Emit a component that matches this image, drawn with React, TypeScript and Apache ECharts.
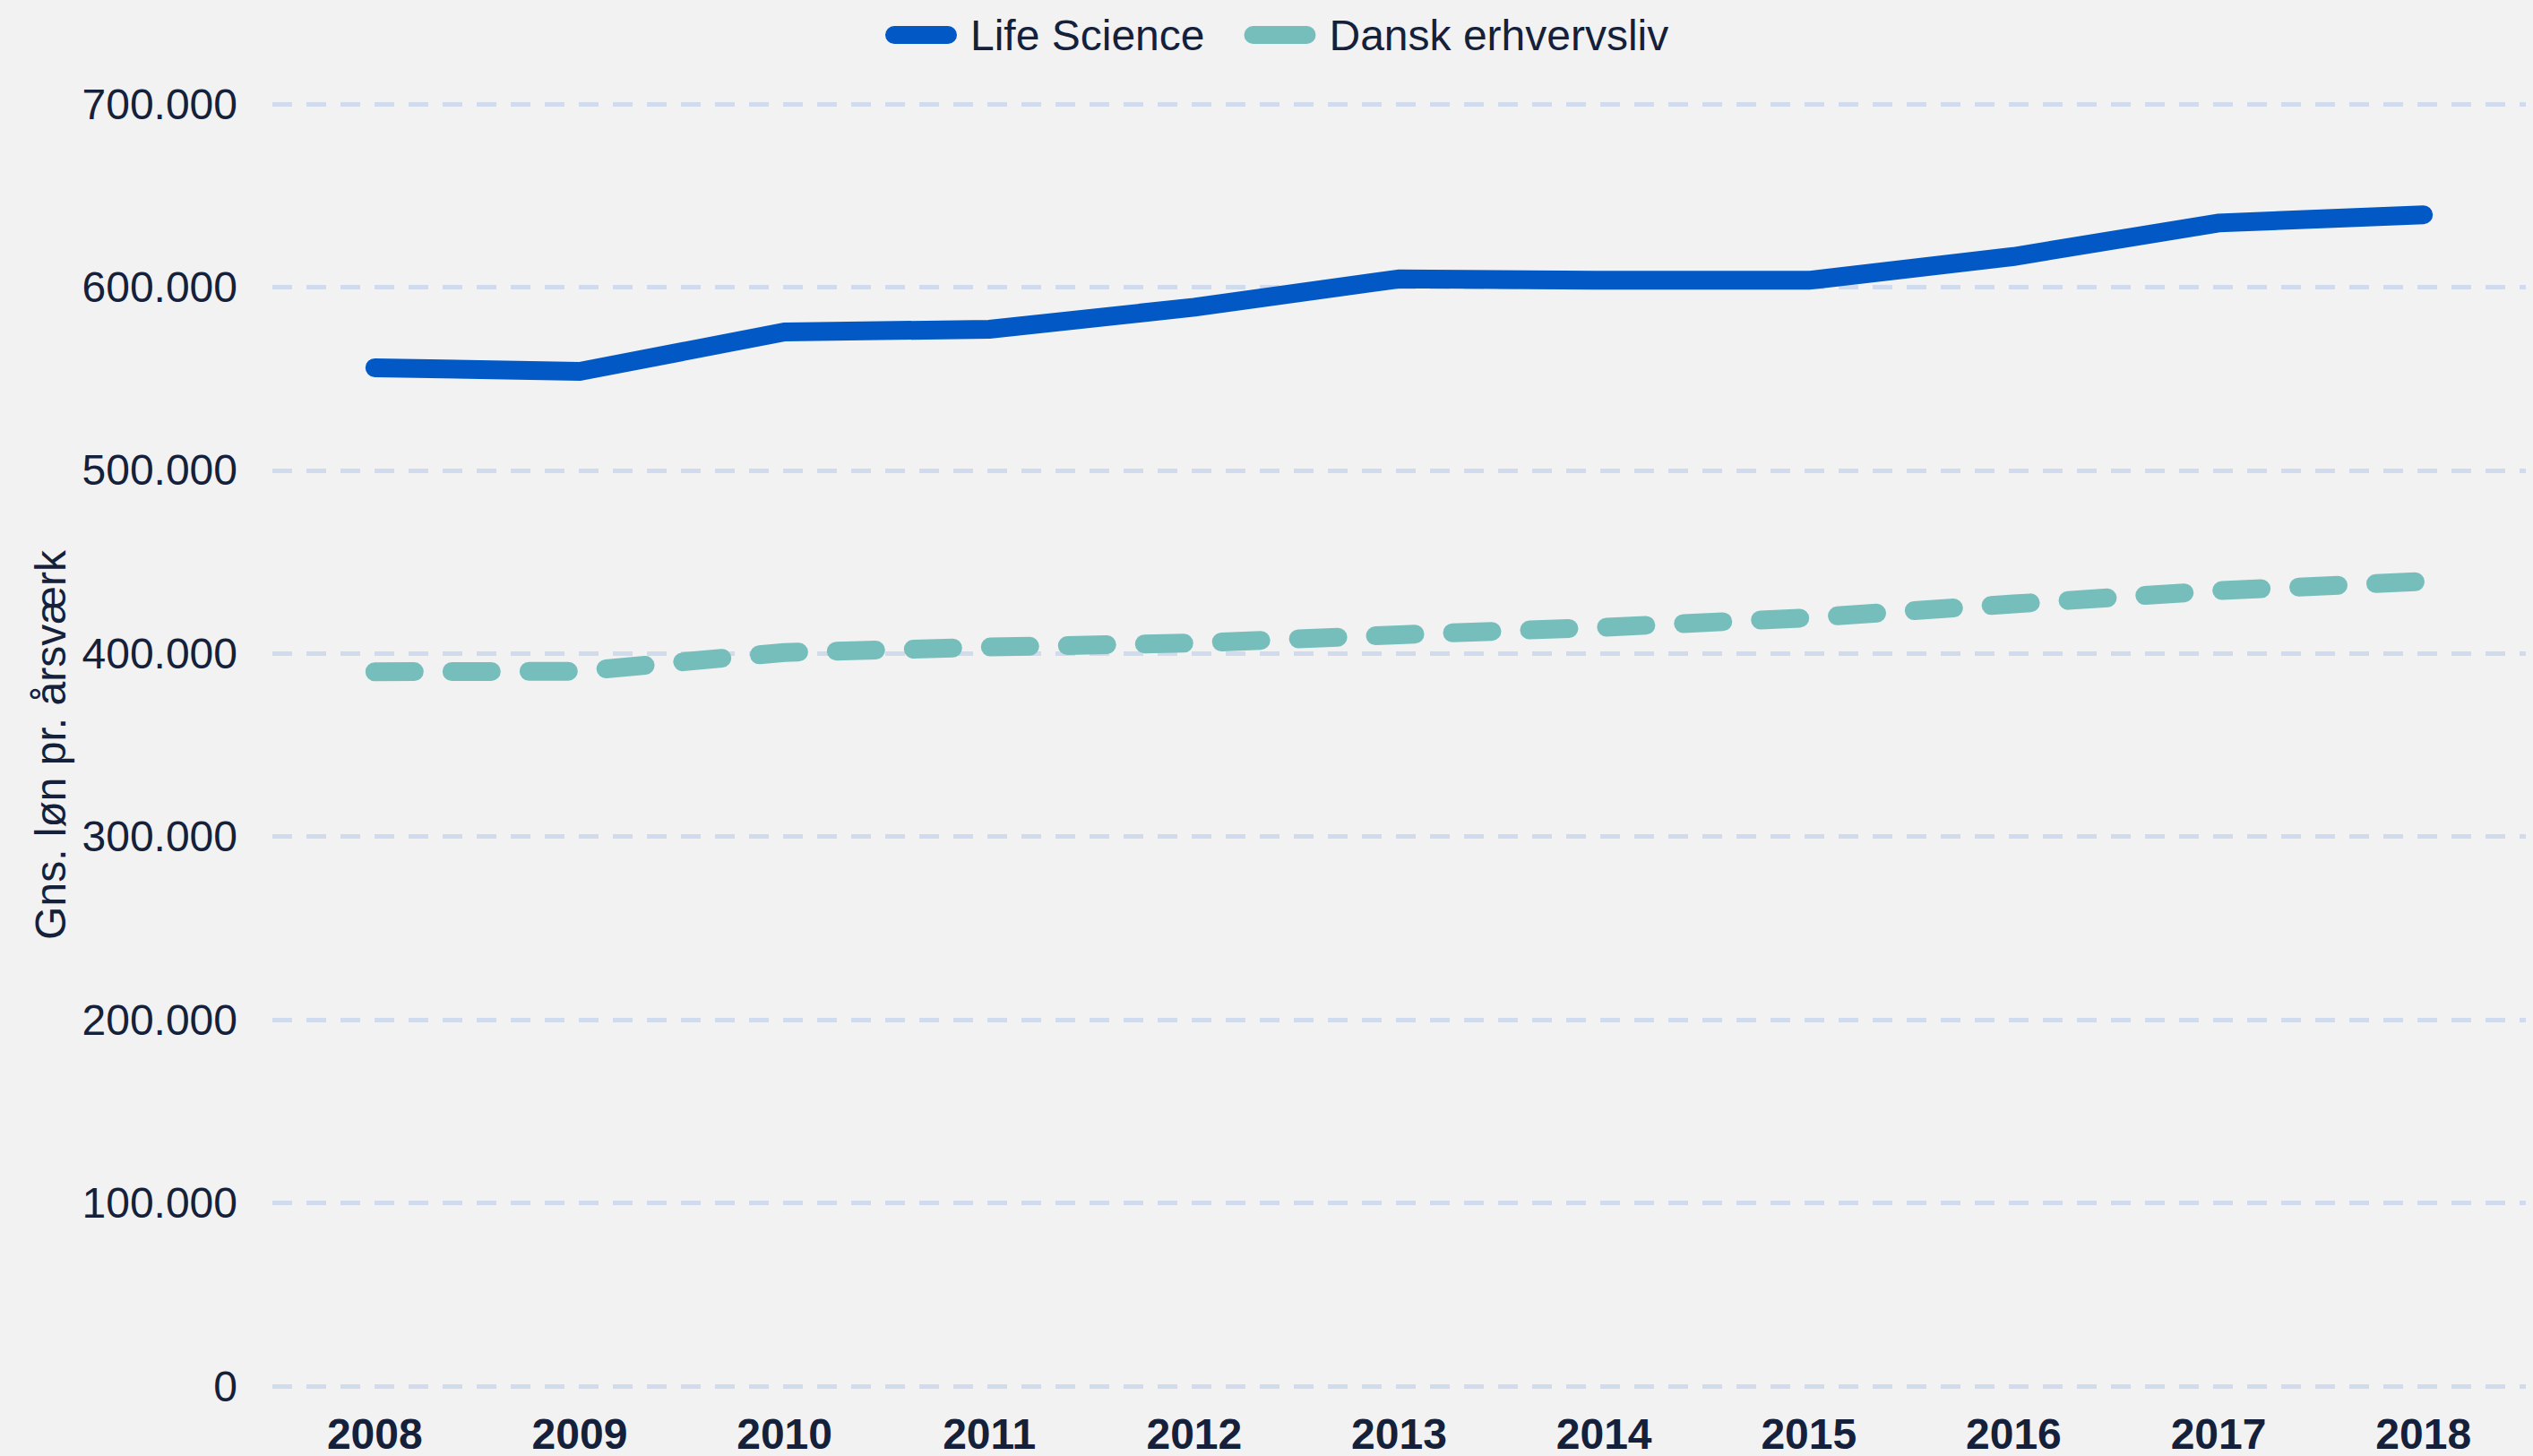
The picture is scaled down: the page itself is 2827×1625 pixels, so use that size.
import React, { useEffect, useRef } from "react";
import * as echarts from "echarts";

const years = ["2008", "2009", "2010", "2011", "2012", "2013", "2014", "2015", "2016", "2017", "2018"];
const lifeScience = [556000, 554000, 575500, 577000, 589000, 604500, 603700, 603700, 616700, 635000, 639500];
const danskErhvervsliv = [390000, 390300, 400500, 403500, 405700, 410200, 414300, 419500, 427000, 434300, 439300];
const seriesNames = ["Life Science", "Dansk erhvervsliv"];
const yAxisName = "Gns. løn pr. årsværk";

const TEXT = "#15213a";
const FONT = "'Liberation Sans', Arial, sans-serif";
const PILL = "path://M11,0 H77 A11,11 0 0 1 77,22 H11 A11,11 0 0 1 11,0 Z";

export default function App() {
  const ref = useRef<HTMLDivElement>(null);
  useEffect(() => {
    document.body.style.margin = "0";
    const chart = echarts.init(ref.current!, null, { renderer: "svg" });
    chart.setOption({
      animation: false,
      backgroundColor: "#f2f2f2",
      textStyle: { fontFamily: FONT, color: TEXT },
      legend: {
        top: 15,
        left: 988,
        itemWidth: 80,
        itemHeight: 22,
        itemGap: 44,
        padding: 0,
        textStyle: { fontSize: 48, color: TEXT, fontFamily: FONT, padding: [0, 0, 0, 10] },
        data: [
          { name: seriesNames[0], icon: PILL, itemStyle: { color: "#0259c6" } },
          { name: seriesNames[1], icon: PILL, itemStyle: { color: "#76bebb" } },
        ],
      },
      grid: { left: 304, right: 8, top: 116, bottom: 78 },
      xAxis: {
        type: "category",
        data: years,
        boundaryGap: true,
        axisLine: { show: false },
        axisTick: { show: false },
        axisLabel: { fontSize: 48, fontWeight: "bold", color: TEXT, fontFamily: FONT, margin: 29 },
      },
      yAxis: {
        type: "value",
        min: 0,
        max: 700000,
        interval: 100000,
        name: yAxisName,
        nameLocation: "middle",
        nameGap: 222,
        nameTextStyle: { fontSize: 48, color: TEXT, fontFamily: FONT },
        axisLine: { show: false },
        axisTick: { show: false },
        axisLabel: {
          fontSize: 48,
          color: TEXT,
          fontFamily: FONT,
          margin: 39,
          formatter: (v: number) => String(Math.round(v)).replace(/\B(?=(\d{3})+(?!\d))/g, "."),
        },
        splitLine: { lineStyle: { color: "#d0dcee", width: 5, type: [22, 16] } },
      },
      series: [
        {
          name: seriesNames[0],
          type: "line",
          data: lifeScience,
          symbol: "none",
          color: "#0259c6",
          lineStyle: { color: "#0259c6", width: 21, cap: "round", join: "miter" },
        },
        {
          name: seriesNames[1],
          type: "line",
          data: danskErhvervsliv,
          symbol: "none",
          color: "#76bebb",
          lineStyle: { color: "#76bebb", width: 21, type: [44, 42], cap: "round" },
        },
      ],
    });
    return () => chart.dispose();
  }, []);
  return <div ref={ref} style={{ width: 2827, height: 1625 }} />;
}
